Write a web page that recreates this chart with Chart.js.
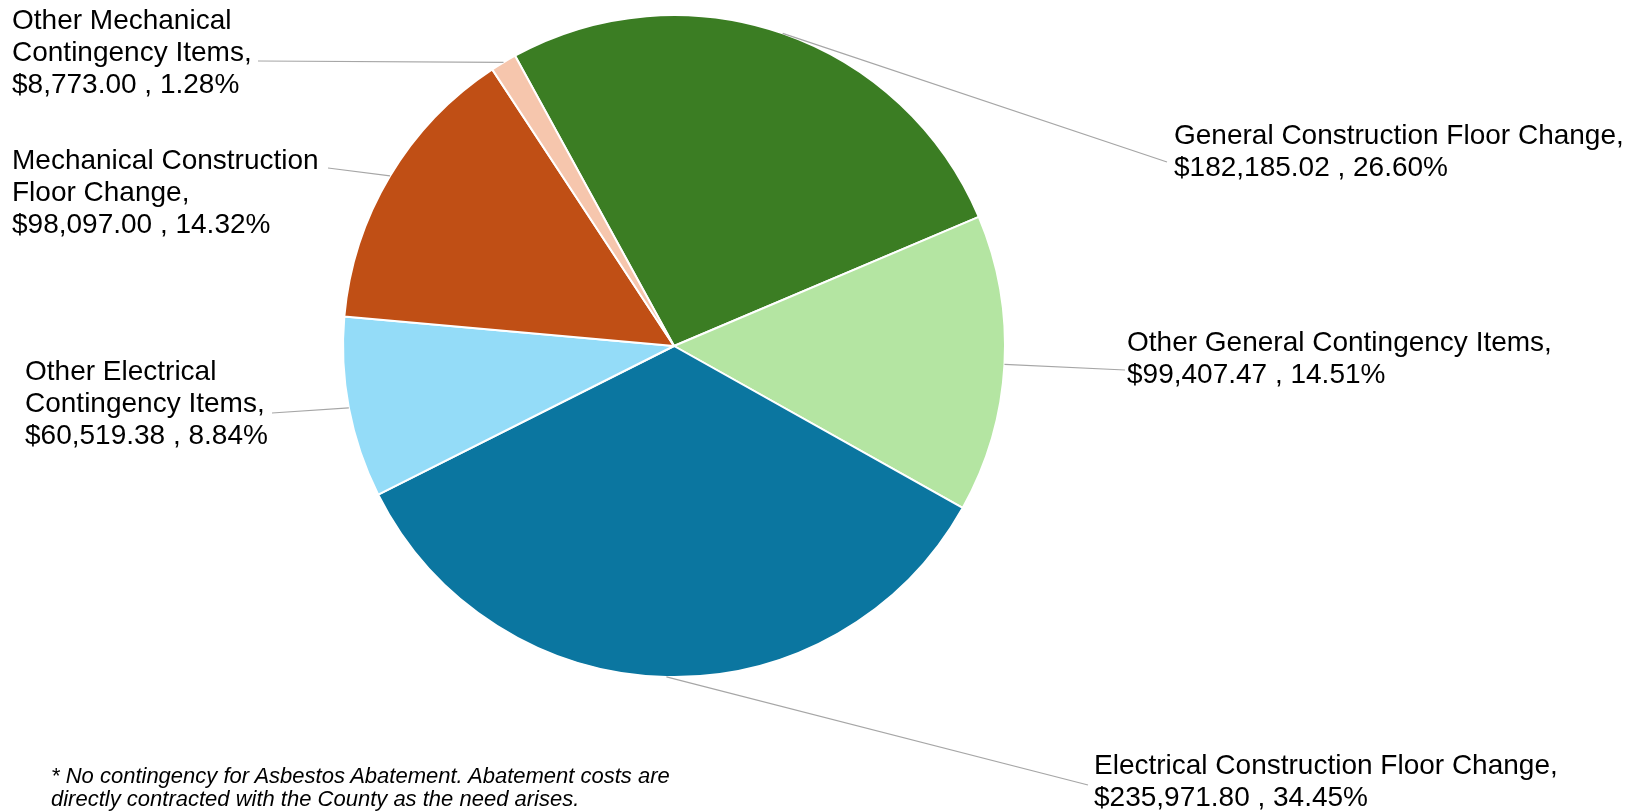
<!DOCTYPE html>
<html>
<head>
<meta charset="utf-8">
<script src="https://cdn.jsdelivr.net/npm/chart.js@4.4.1/dist/chart.umd.min.js"></script>
<style>
  html, body { margin: 0; padding: 0; background: #fff; }
  #wrap { position: relative; width: 1640px; height: 812px; }
  #note { position: absolute; left: 51px; top: 764px; font: italic 22px 'Liberation Sans', Arial, sans-serif; line-height: 23px; color: #000; }
</style>
</head>
<body>
<div id="wrap">
  <canvas id="pie" width="1640" height="812"></canvas>
  <div id="note">* No contingency for Asbestos Abatement. Abatement costs are<br>directly contracted with the County as the need arises.</div>
</div>
<script>
// Contingency breakdown
var categories = [
  ['General Construction Floor Change'],
  ['Other General Contingency Items'],
  ['Electrical Construction Floor Change'],
  ['Other Electrical', 'Contingency Items'],
  ['Mechanical Construction', 'Floor Change'],
  ['Other Mechanical', 'Contingency Items']
];
var amounts = [182185.02, 99407.47, 235971.80, 60519.38, 98097.00, 8773.00];
var colors = ['#3B7D23', '#B4E5A2', '#0B76A0', '#94DCF8', '#C04F15', '#F6C6AD'];

// where each label sits (left x, first baseline) and where its leader line ends
var labelPos = [
  { x: 1174, y: 144, ex: 1167, ey: 162 },
  { x: 1127, y: 351, ex: 1125, ey: 370 },
  { x: 1094, y: 774, ex: 1088, ey: 785 },
  { x: 25,   y: 380, ex: 272,  ey: 413 },
  { x: 12,   y: 169, ex: 328,  ey: 168 },
  { x: 12,   y: 29,  ex: 258,  ey: 61 }
];
var LINE_H = 32;

function money(v) {
  return '$' + v.toLocaleString('en-US', { minimumFractionDigits: 2, maximumFractionDigits: 2 });
}

var outsideLabels = {
  id: 'outsideLabels',
  afterDraw: function(chart) {
    var ctx = chart.ctx;
    var meta = chart.getDatasetMeta(0);
    var total = amounts.reduce(function(a, b) { return a + b; }, 0);
    ctx.save();
    meta.data.forEach(function(arc, i) {
      var p = labelPos[i];
      var mid = (arc.startAngle + arc.endAngle) / 2;
      var sx = arc.x + Math.cos(mid) * arc.outerRadius;
      var sy = arc.y + Math.sin(mid) * arc.outerRadius;
      // leader line
      ctx.beginPath();
      ctx.moveTo(sx, sy);
      ctx.lineTo(p.ex, p.ey);
      ctx.strokeStyle = '#A6A6A6';
      ctx.lineWidth = 1.2;
      ctx.stroke();
      // text
      var lines = categories[i].slice();
      lines[lines.length - 1] = lines[lines.length - 1] + ',';
      lines.push(money(amounts[i]) + ' , ' + (amounts[i] / total * 100).toFixed(2) + '%');
      ctx.fillStyle = '#000';
      ctx.font = '28px "Liberation Sans", Arial, sans-serif';
      ctx.textAlign = 'left';
      ctx.textBaseline = 'alphabetic';
      lines.forEach(function(t, k) {
        ctx.fillText(t, p.x, p.y + k * LINE_H);
      });
    });
    ctx.restore();
  }
};

new Chart(document.getElementById('pie'), {
  type: 'pie',
  data: {
    labels: categories,
    datasets: [{
      data: amounts,
      backgroundColor: colors,
      borderColor: '#ffffff',
      borderWidth: 2
    }]
  },
  options: {
    responsive: false,
    animation: false,
    rotation: -28.7,
    layout: { padding: { left: 342, right: 634, top: 14, bottom: 134 } },
    plugins: {
      legend: { display: false },
      tooltip: { enabled: false }
    }
  },
  plugins: [outsideLabels]
});
</script>
</body>
</html>
